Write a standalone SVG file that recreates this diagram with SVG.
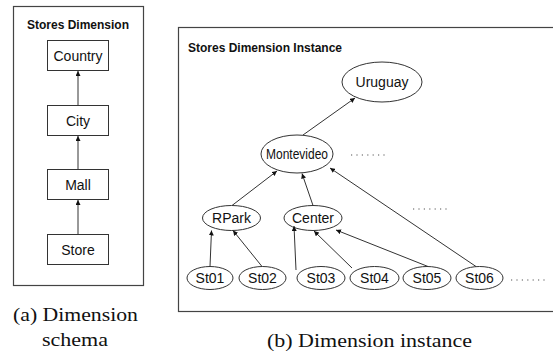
<svg xmlns="http://www.w3.org/2000/svg" width="553" height="355" viewBox="0 0 553 355">
<style>
.frame{fill:none;stroke:#444;stroke-width:1.2}
.box{fill:#fff;stroke:#333;stroke-width:1}
.lbl{font-family:"Liberation Sans",Arial,sans-serif;font-size:14px;fill:#111;text-anchor:middle;dominant-baseline:central}
.ttl{font-family:"Liberation Sans",Arial,sans-serif;font-weight:bold;font-size:12px;fill:#111}
.cap{font-family:"Liberation Serif","Times New Roman",serif;font-size:19.5px;fill:#111;text-anchor:middle}
.edge{stroke:#333;stroke-width:1;fill:none;marker-end:url(#ah)}
.dots{stroke:#555;stroke-width:1.2;stroke-dasharray:1.2 4.2;fill:none}
</style>
<defs>
<marker id="ah" viewBox="0 0 10 10" refX="10" refY="5" markerWidth="5" markerHeight="5" orient="auto" markerUnits="userSpaceOnUse">
<path d="M0,0 L10,5 L0,10 z" fill="#111"/>
</marker>
</defs>

<g id="panel-a">
<rect class="frame" x="13.5" y="6.5" width="130" height="279"/>
<text class="ttl" x="78" y="29" text-anchor="middle">Stores Dimension</text>
</g>
<g id="country"><rect class="box" x="47.5" y="40.5" width="61" height="30"/><text class="lbl" x="78" y="55.5">Country</text></g>
<g id="city"><rect class="box" x="47.5" y="105.5" width="61" height="30"/><text class="lbl" x="78" y="120.5">City</text></g>
<g id="mall"><rect class="box" x="47.5" y="169.5" width="61" height="30"/><text class="lbl" x="78" y="184.5">Mall</text></g>
<g id="store"><rect class="box" x="47.5" y="234.5" width="61" height="30"/><text class="lbl" x="78" y="249.5">Store</text></g>

<g id="panel-b">
<rect class="frame" x="178.5" y="27.5" width="390" height="284"/>
<text class="ttl" x="188" y="52" font-size="12.6">Stores Dimension Instance</text>
</g>
<g id="uruguay"><ellipse class="box" cx="382" cy="82" rx="40" ry="20"/><text class="lbl" x="382" y="82">Uruguay</text></g>
<g id="montevideo"><ellipse class="box" cx="297" cy="154" rx="36" ry="19"/><text class="lbl" x="297" y="154" textLength="62" lengthAdjust="spacingAndGlyphs">Montevideo</text></g>
<g id="rpark"><ellipse class="box" cx="231.5" cy="218" rx="29" ry="12.5"/><text class="lbl" x="231.5" y="218">RPark</text></g>
<g id="center"><ellipse class="box" cx="313" cy="218" rx="29" ry="12.5"/><text class="lbl" x="313" y="218">Center</text></g>
<g id="st01"><ellipse class="box" cx="210" cy="278" rx="23" ry="11.5"/><text class="lbl" x="210" y="278">St01</text></g>
<g id="st02"><ellipse class="box" cx="262.5" cy="278" rx="23.5" ry="11.5"/><text class="lbl" x="262.5" y="278">St02</text></g>
<g id="st03"><ellipse class="box" cx="321" cy="278" rx="24" ry="11.5"/><text class="lbl" x="321" y="278">St03</text></g>
<g id="st04"><ellipse class="box" cx="374.5" cy="278" rx="24.5" ry="11.5"/><text class="lbl" x="374.5" y="278">St04</text></g>
<g id="st05"><ellipse class="box" cx="427" cy="278" rx="24" ry="11.5"/><text class="lbl" x="427" y="278">St05</text></g>
<g id="st06"><ellipse class="box" cx="479.5" cy="278" rx="23.5" ry="11.5"/><text class="lbl" x="479.5" y="278">St06</text></g>

<g id="ellipses-dots">
<line class="dots" x1="351" y1="155" x2="388" y2="155"/>
<line class="dots" x1="413" y1="209" x2="449" y2="209"/>
<line class="dots" x1="511" y1="280" x2="548" y2="280"/>
</g>

<g id="connectors">
<line class="edge" x1="78" y1="105.5" x2="78" y2="71"/>
<line class="edge" x1="78" y1="169.5" x2="78" y2="136"/>
<line class="edge" x1="78" y1="234.5" x2="78" y2="200"/>
<line class="edge" x1="303" y1="135" x2="355" y2="98"/>
<line class="edge" x1="232" y1="205.5" x2="277" y2="171"/>
<line class="edge" x1="313" y1="205.5" x2="302" y2="173.5"/>
<line class="edge" x1="476" y1="266.5" x2="330" y2="168"/>
<line class="edge" x1="210" y1="266.5" x2="211.5" y2="230.5"/>
<line class="edge" x1="262" y1="266.5" x2="233" y2="230.5"/>
<line class="edge" x1="296" y1="270" x2="294" y2="226"/>
<line class="edge" x1="352" y1="268" x2="314" y2="231"/>
<line class="edge" x1="428" y1="266.5" x2="336" y2="230"/>
</g>

<g id="captions">
<text class="cap" x="75.5" y="321" textLength="125" lengthAdjust="spacingAndGlyphs">(a) Dimension</text>
<text class="cap" x="75" y="346" textLength="66" lengthAdjust="spacingAndGlyphs">schema</text>
<text class="cap" x="369.5" y="347" textLength="205" lengthAdjust="spacingAndGlyphs">(b) Dimension instance</text>
</g>
</svg>
